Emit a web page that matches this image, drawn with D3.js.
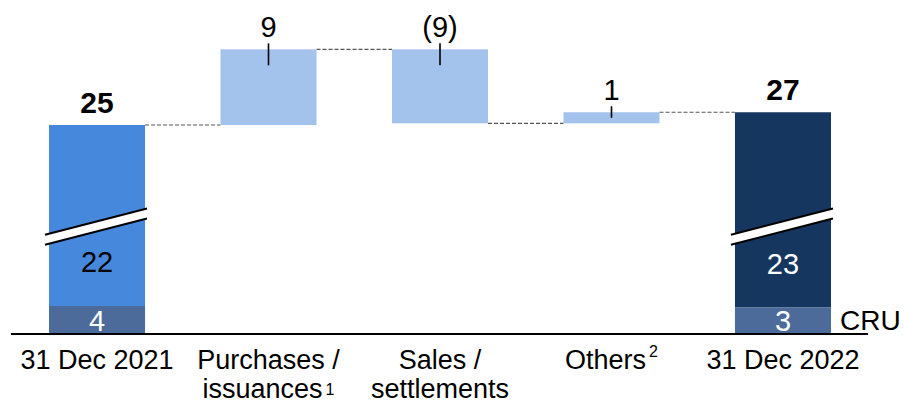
<!DOCTYPE html>
<html>
<head>
<meta charset="utf-8">
<script src="https://cdn.jsdelivr.net/npm/d3@7"></script>
<style>
  html, body { margin: 0; padding: 0; background: #fff; }
  svg { display: block; font-family: "Liberation Sans", Arial, sans-serif; }
</style>
</head>
<body>
<svg id="chart" width="904" height="404" viewBox="0 0 904 404"></svg>
<script>
// Waterfall data (EUR bn, underlying values)
const categories = ["31 Dec 2021", "Purchases / issuances", "Sales / settlements", "Others", "31 Dec 2022"];
const labelLines = [["31 Dec 2021"], ["Purchases /", "issuances"], ["Sales /", "settlements"], ["Others"], ["31 Dec 2022"]];
const footnotes = ["", "1", "", "2", ""];
const kinds = ["total", "delta", "delta", "delta", "total"];
const values = [25.2, 8.9, -8.7, 1.3, 26.7];
const cruValues = [3.6, null, null, null, 3.4];
const breakValue = 13.2;

const totalColors = { "31 Dec 2021": "#4689dc", "31 Dec 2022": "#15375f" };
const coreTextColors = { "31 Dec 2021": "#000", "31 Dec 2022": "#fff" };
const deltaColor = "#a4c3ec";
const cruColor = "#4c6b9a";

const fmt = v => v < 0 ? `(${Math.round(-v)})` : `${Math.round(v)}`;

// build waterfall rows
let running = 0;
const rows = categories.map((c, i) => {
    let lo, hi;
    if (kinds[i] === "total") {
        lo = 0; hi = values[i]; running = values[i];
    } else {
        const next = running + values[i];
        lo = Math.min(running, next); hi = Math.max(running, next);
        running = next;
    }
    return { cat: c, kind: kinds[i], value: values[i], lo, hi, end: running, cru: cruValues[i] };
});

const svg = d3.select("#chart");

const x = d3.scaleBand()
    .domain(categories)
    .range([49, 831])
    .paddingInner(0.44)
    .paddingOuter(0);

// broken axis: compressed lower part, linear upper part
const y = d3.scaleLinear()
    .domain([0, 3.6, 16, 36])
    .range([334, 306, 203.2, 33.2]);

const g = svg.append("g");

// connectors
const conn = g.append("g")
    .attr("stroke", "#555")
    .attr("stroke-width", 1.2)
    .attr("stroke-dasharray", "4,2");
rows.slice(0, -1).forEach((d, i) => {
    conn.append("line")
        .attr("x1", x(d.cat) + x.bandwidth())
        .attr("x2", x(rows[i + 1].cat))
        .attr("y1", y(d.end))
        .attr("y2", y(d.end));
});

// totals
rows.filter(d => d.kind === "total").forEach(d => {
    g.append("rect")
        .attr("x", x(d.cat)).attr("width", x.bandwidth())
        .attr("y", y(d.hi)).attr("height", y(d.cru) - y(d.hi))
        .attr("fill", totalColors[d.cat]);
    g.append("rect")
        .attr("x", x(d.cat)).attr("width", x.bandwidth())
        .attr("y", y(d.cru)).attr("height", y(0) - y(d.cru))
        .attr("fill", cruColor);

    // break mark
    const yb = y(breakValue), x0 = x(d.cat) - 4, x1 = x(d.cat) + x.bandwidth() + 2;
    const cx = x(d.cat) + x.bandwidth() / 2, slope = -26 / 101;
    const ly = (xx, off) => yb + off + (xx - cx) * slope;
    g.append("path")
        .attr("d", `M${x0},${ly(x0, -5)}L${x1},${ly(x1, -5)}L${x1},${ly(x1, 5)}L${x0},${ly(x0, 5)}Z`)
        .attr("fill", "#fff");
    [-5, 5].forEach(off => {
        g.append("line")
            .attr("x1", x0).attr("y1", ly(x0, off))
            .attr("x2", x1).attr("y2", ly(x1, off))
            .attr("stroke", "#000").attr("stroke-width", 2);
    });

    g.append("text")
        .attr("x", cx).attr("y", y(d.hi) - 12)
        .attr("text-anchor", "middle")
        .attr("font-size", "30px").attr("font-weight", "bold")
        .text(fmt(d.value));
    g.append("text")
        .attr("x", cx).attr("y", y(d.cru) - 34)
        .attr("text-anchor", "middle")
        .attr("font-size", "29px")
        .attr("fill", coreTextColors[d.cat])
        .text(fmt(d.value - d.cru));
    g.append("text")
        .attr("x", cx).attr("y", y(0) - 3)
        .attr("text-anchor", "middle")
        .attr("font-size", "29px")
        .attr("fill", "#fff")
        .text(fmt(d.cru));
});

// deltas
rows.filter(d => d.kind === "delta").forEach(d => {
    const cx = x(d.cat) + x.bandwidth() / 2;
    const h = y(d.lo) - y(d.hi);
    g.append("rect")
        .attr("x", x(d.cat)).attr("width", x.bandwidth())
        .attr("y", y(d.hi)).attr("height", h)
        .attr("fill", deltaColor);
    g.append("line")
        .attr("x1", cx).attr("x2", cx)
        .attr("y1", y(d.hi) - 6).attr("y2", y(d.hi) + Math.min(16, h / 2))
        .attr("stroke", "#000").attr("stroke-width", 1.6);
    g.append("text")
        .attr("x", cx).attr("y", y(d.hi) - 12)
        .attr("text-anchor", "middle")
        .attr("font-size", "29px")
        .text(fmt(d.value));
});

// baseline
g.append("line")
    .attr("x1", x.range()[0] - 38).attr("x2", x.range()[1] + 37)
    .attr("y1", y(0)).attr("y2", y(0))
    .attr("stroke", "#000").attr("stroke-width", 2);

// CRU legend
const last = rows[rows.length - 1];
g.append("text")
    .attr("x", x(last.cat) + x.bandwidth() + 9)
    .attr("y", y(0) - 4)
    .attr("font-size", "28px")
    .text("CRU");

// category labels
categories.forEach((c, i) => {
    const t = g.append("text")
        .attr("x", x(c) + x.bandwidth() / 2)
        .attr("y", 369)
        .attr("text-anchor", "middle")
        .attr("font-size", "27px");
    labelLines[i].forEach((line, j) => {
        const isLast = j === labelLines[i].length - 1;
        const tl = t.append("tspan")
            .attr("x", x(c) + x.bandwidth() / 2)
            .attr("dy", j === 0 ? 0 : 29);
        tl.append("tspan").text(line);
        if (isLast && footnotes[i]) {
            tl.append("tspan")
                .attr("font-size", "16px")
                .attr("dx", 3)
                .attr("dy", labelLines[i].length > 1 ? -3 : -12)
                .text(footnotes[i]);
        }
    });
});
</script>
</body>
</html>
